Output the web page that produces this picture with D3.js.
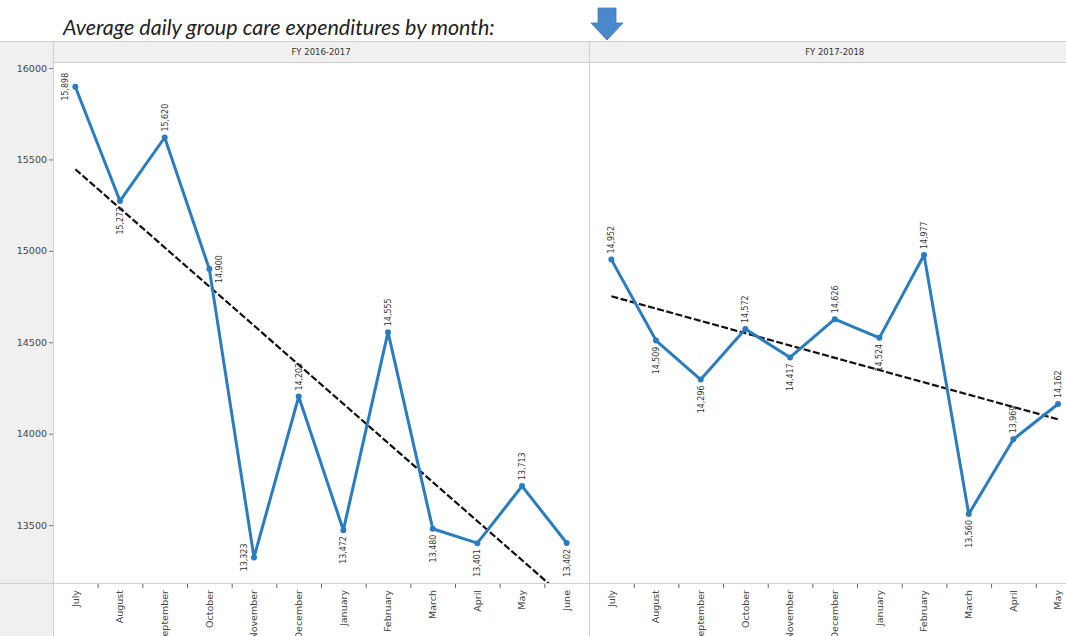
<!DOCTYPE html>
<html>
<head>
    <meta charset="UTF-8">
    <title>Group care expenditures</title>
    <style>
        body { margin: 0; background: #fff; }
        svg { display: block; }
        .axis text { font-family: "DejaVu Sans", sans-serif; fill: #444; }
        .axis path { display: none; }
        .axis line { stroke: #777; }
    </style>
</head>
<body>
    <svg width="1066" height="636"></svg>
    <script src="https://cdn.jsdelivr.net/npm/d3@7"></script>
    <script>
        // data
        const panels = ["FY 2016-2017", "FY 2017-2018"];
        const monthsFY1 = ["July", "August", "September", "October", "November", "December",
            "January", "February", "March", "April", "May", "June"];
        const monthsFY2 = ["July", "August", "September", "October", "November", "December",
            "January", "February", "March", "April", "May"];
        const valuesFY1 = [15898, 15273, 15620, 14900, 13323, 14203, 13472, 14555, 13480, 13401, 13713, 13402];
        const valuesFY2 = [14952, 14509, 14296, 14572, 14417, 14626, 14524, 14977, 13560, 13969, 14162];
        const yTicks = [13500, 14000, 14500, 15000, 15500, 16000];

        const svg = d3.select("svg"),
            W = 1066, H = 636,
            axisW = 53, headTop = 41, plotTop = 62, plotBottom = 583,
            step = 44.67,
            blue = "#2b7cbf",
            gridCol = "#cfcfcf",
            bandCol = "#f0f0f0";

        // label placement that Tableau moved off the default
        const labelOverride = { "0-0": "left", "0-3": "right", "0-4": "left" };

        const y = d3.scaleLinear().domain([13183, 16033]).range([plotBottom, plotTop]);

        // title
        svg.append("text")
            .attr("x", 63).attr("y", 35)
            .style("font-family", "Lato, 'Open Sans', sans-serif")
            .style("font-style", "italic")
            .style("font-size", "21.5px")
            .style("fill", "#222")
            .text("Average daily group care expenditures by month:");

        // arrow marker above the second panel
        svg.append("path")
            .attr("d", "M598,8 L616,8 L616,23 L623,23 L607,40 L591,23 L598,23 Z")
            .attr("fill", "#4a88cc")
            .attr("stroke", "#3f78b8")
            .attr("stroke-width", 0.8);

        // y axis band + header band
        svg.append("rect").attr("x", 0).attr("y", headTop).attr("width", axisW).attr("height", H - headTop)
            .attr("fill", bandCol);
        svg.append("rect").attr("x", axisW).attr("y", headTop).attr("width", W - axisW).attr("height", plotTop - headTop)
            .attr("fill", bandCol);

        svg.append("line").attr("x1", 0).attr("x2", W).attr("y1", headTop + 0.5).attr("y2", headTop + 0.5)
            .attr("stroke", gridCol);
        svg.append("line").attr("x1", axisW).attr("x2", W).attr("y1", plotTop + 0.5).attr("y2", plotTop + 0.5)
            .attr("stroke", gridCol);
        svg.append("line").attr("x1", 0).attr("x2", W).attr("y1", plotBottom + 0.5).attr("y2", plotBottom + 0.5)
            .attr("stroke", gridCol);
        svg.append("line").attr("x1", axisW + 0.5).attr("x2", axisW + 0.5).attr("y1", headTop).attr("y2", H)
            .attr("stroke", gridCol);

        // y axis
        svg.append("g")
            .attr("class", "axis")
            .attr("transform", `translate(${axisW},0)`)
            .call(d3.axisLeft(y).tickValues(yTicks).tickFormat(d3.format("d")).tickSize(4).tickPadding(2))
            .selectAll("text").style("font-size", "9.5px");

        const fmt = d3.format(",");
        const lineGen = (x) => d3.line().x((d, i) => x(i)).y(d => y(d));

        const series = [
            { months: monthsFY1, values: valuesFY1 },
            { months: monthsFY2, values: valuesFY2 }
        ];

        let left = axisW;
        series.forEach((s, p) => {
            const width = s.months.length * step;
            const xb = d3.scaleBand().domain(s.months).range([left, left + width]).padding(0);
            const x = i => xb(s.months[i]) + xb.bandwidth() / 2;

            // divider at the right edge of panel
            svg.append("line").attr("x1", left + width + 0.5).attr("x2", left + width + 0.5)
                .attr("y1", headTop).attr("y2", H).attr("stroke", gridCol);

            // header
            svg.append("text")
                .attr("x", left + width / 2).attr("y", 55)
                .attr("text-anchor", "middle")
                .style("font-family", "'DejaVu Sans', sans-serif")
                .style("font-size", "8.5px")
                .style("fill", "#333")
                .text(panels[p]);

            // x axis labels
            const gx = svg.append("g")
                .attr("class", "axis")
                .attr("transform", `translate(0,${plotBottom})`)
                .call(d3.axisBottom(xb).tickSize(0));
            gx.selectAll("text")
                .style("font-size", "9.5px")
                .attr("text-anchor", "end")
                .attr("transform", "rotate(-90)")
                .attr("x", -7).attr("y", 0).attr("dy", "0.35em");

            // tick marks between months
            svg.append("g").selectAll("line")
                .data(s.months.slice(1))
                .join("line")
                .attr("x1", d => xb(d) + 0.5).attr("x2", d => xb(d) + 0.5)
                .attr("y1", plotBottom + 1).attr("y2", plotBottom + 5)
                .attr("stroke", "#666");

            const clipId = "clip" + p;
            svg.append("clipPath").attr("id", clipId)
                .append("rect").attr("x", left).attr("y", plotTop).attr("width", width).attr("height", plotBottom - plotTop);
            const g = svg.append("g").attr("clip-path", `url(#${clipId})`);

            // trend line (least squares)
            const n = s.values.length,
                mx = d3.mean(s.values, (d, i) => i),
                my = d3.mean(s.values),
                slope = d3.sum(s.values, (d, i) => (i - mx) * (d - my)) / d3.sum(s.values, (d, i) => (i - mx) * (i - mx)),
                icpt = my - slope * mx;
            g.append("line")
                .attr("x1", x(0)).attr("y1", y(icpt))
                .attr("x2", x(n - 1)).attr("y2", y(icpt + slope * (n - 1)))
                .attr("stroke", "#111")
                .attr("stroke-width", 2.2)
                .attr("stroke-dasharray", "7,2.5");

            g.append("path")
                .datum(s.values)
                .attr("fill", "none")
                .attr("stroke", blue)
                .attr("stroke-width", 3)
                .attr("stroke-linejoin", "round")
                .attr("d", lineGen(x));

            g.selectAll("circle")
                .data(s.values)
                .join("circle")
                .attr("cx", (d, i) => x(i))
                .attr("cy", d => y(d))
                .attr("r", 3)
                .attr("fill", blue);

            // data labels
            svg.append("g").selectAll("text")
                .data(s.values)
                .join("text")
                .style("font-family", "'DejaVu Sans Condensed', 'DejaVu Sans', sans-serif")
                .style("font-size", "8.8px")
                .style("fill", "#333")
                .each(function (d, i) {
                    const prev = i > 0 ? s.values[i - 1] : null,
                        next = i < n - 1 ? s.values[i + 1] : null,
                        nb = [prev, next].filter(v => v !== null),
                        pos = labelOverride[p + "-" + i] || (d >= d3.mean(nb) ? "above" : "below");
                    const t = d3.select(this), px = x(i), py = y(d);
                    if (pos === "above") {
                        t.attr("text-anchor", "start").attr("dy", "0.35em")
                            .attr("transform", `translate(${px},${py - 6}) rotate(-90)`);
                    } else if (pos === "below") {
                        t.attr("text-anchor", "end").attr("dy", "0.35em")
                            .attr("transform", `translate(${px},${py + 6}) rotate(-90)`);
                    } else if (pos === "left") {
                        t.attr("text-anchor", "middle").attr("dy", "-0.1em")
                            .attr("transform", `translate(${px - 6},${py}) rotate(-90)`);
                    } else {
                        t.attr("text-anchor", "middle").attr("dy", "0.85em")
                            .attr("transform", `translate(${px + 5},${py}) rotate(-90)`);
                    }
                })
                .text(d => fmt(d));

            left += width;
        });
    </script>
</body>
</html>
